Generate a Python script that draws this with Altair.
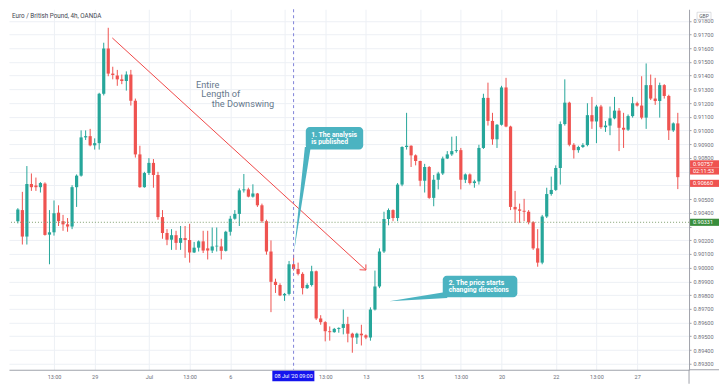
import altair as alt
import pandas as pd

W, H = 681, 361
GREEN = "#26a69a"
RED = "#ef5350"
TEAL = "#4bb3c1"
AXC = "#a0a3ab"
LBL = "#6a6d78"

# 4h candles, EUR/GBP
opens = [0.90339, 0.90420, 0.90227, 0.90610, 0.90599, 0.90587, 0.90613, 0.90241, 0.90258, 0.90401,
         0.90339, 0.90316, 0.90300, 0.90587, 0.90671, 0.90950, 0.90959, 0.90892, 0.90908, 0.91268,
         0.91598, 0.91415, 0.91401, 0.91373, 0.91361, 0.91408, 0.91217, 0.90826, 0.90587, 0.90690,
         0.90764, 0.90676, 0.90369, 0.90253, 0.90204, 0.90237, 0.90181, 0.90216, 0.90202, 0.90111,
         0.90146, 0.90192, 0.90141, 0.90125, 0.90155, 0.90155, 0.90123, 0.90262, 0.90357, 0.90392,
         0.90564, 0.90571, 0.90518, 0.90541, 0.90455, 0.90339, 0.90118, 0.89897, 0.89874, 0.89798,
         0.89809, 0.90025, 0.89990, 0.89955, 0.89851, 0.89874, 0.89974, 0.89630, 0.89603, 0.89537,
         0.89530, 0.89554, 0.89561, 0.89589, 0.89519, 0.89491, 0.89519, 0.89507, 0.89491, 0.89695,
         0.89863, 0.90118, 0.90355, 0.90420, 0.90362, 0.90606, 0.90880, 0.90889, 0.90819, 0.90778,
         0.90634, 0.90734, 0.90509, 0.90641, 0.90687, 0.90796, 0.90826, 0.90850, 0.90857, 0.90641,
         0.90680, 0.90617, 0.90629, 0.90873, 0.91238, 0.91070, 0.90936, 0.91042, 0.91314, 0.91029,
         0.90443, 0.90425, 0.90415, 0.90408, 0.90332, 0.90141, 0.90037, 0.90373, 0.90537, 0.90567,
         0.90727, 0.91047, 0.91203, 0.90896, 0.90857, 0.90880, 0.90894, 0.91112, 0.91066, 0.91175,
         0.91024, 0.91036, 0.91089, 0.91145, 0.91020, 0.91006, 0.91105, 0.91199, 0.91182, 0.91094,
         0.91331, 0.91233, 0.91215, 0.91331, 0.91252, 0.91001, 0.91052]
highs = [0.90434, 0.90553, 0.90741, 0.90687, 0.90657, 0.90624, 0.90622, 0.90420, 0.90490, 0.90455,
         0.90385, 0.90362, 0.90601, 0.90680, 0.91001, 0.91001, 0.91012, 0.90943, 0.91275, 0.91640,
         0.91749, 0.91465, 0.91442, 0.91408, 0.91431, 0.91442, 0.91233, 0.90889, 0.90699, 0.90799,
         0.90792, 0.90699, 0.90420, 0.90281, 0.90281, 0.90269, 0.90304, 0.90304, 0.90320, 0.90188,
         0.90199, 0.90269, 0.90269, 0.90293, 0.90293, 0.90211, 0.90269, 0.90378, 0.90420, 0.90578,
         0.90683, 0.90583, 0.90608, 0.90545, 0.90467, 0.90350, 0.90199, 0.89920, 0.89886, 0.89816,
         0.90049, 0.90095, 0.90037, 0.89967, 0.89886, 0.90014, 0.89979, 0.89654, 0.89610, 0.89572,
         0.89561, 0.89565, 0.89695, 0.89642, 0.89526, 0.89526, 0.89584, 0.89514, 0.89711, 0.89979,
         0.90141, 0.90408, 0.90432, 0.90425, 0.90617, 0.90885, 0.91129, 0.90892, 0.90826, 0.90780,
         0.90757, 0.90741, 0.90676, 0.90699, 0.90810, 0.90850, 0.90955, 0.90959, 0.90873, 0.90687,
         0.90687, 0.90641, 0.90896, 0.91268, 0.91349, 0.91129, 0.91047, 0.91326, 0.91384, 0.91035,
         0.90560, 0.90467, 0.90502, 0.90420, 0.90339, 0.90281, 0.90385, 0.90583, 0.90664, 0.90746,
         0.91066, 0.91373, 0.91210, 0.90908, 0.90889, 0.90908, 0.91199, 0.91245, 0.91187, 0.91187,
         0.91070, 0.91175, 0.91245, 0.91164, 0.91129, 0.91117, 0.91245, 0.91210, 0.91396, 0.91489,
         0.91408, 0.91384, 0.91349, 0.91338, 0.91261, 0.91059, 0.91129]
lows = [0.90323, 0.90169, 0.90169, 0.90560, 0.90560, 0.90548, 0.90234, 0.90025, 0.90234, 0.90304,
        0.90269, 0.90262, 0.90281, 0.90443, 0.90664, 0.90931, 0.90885, 0.90861, 0.90861, 0.91256,
        0.91396, 0.91373, 0.91326, 0.91338, 0.91291, 0.91182, 0.90803, 0.90583, 0.90583, 0.90676,
        0.90583, 0.90350, 0.90211, 0.90164, 0.90130, 0.90130, 0.90130, 0.90072, 0.90037, 0.90107,
        0.90118, 0.90107, 0.90060, 0.90107, 0.90118, 0.90060, 0.90118, 0.90234, 0.90350, 0.90304,
        0.90548, 0.90513, 0.90511, 0.90443, 0.90327, 0.90095, 0.89676, 0.89816, 0.89793, 0.89758,
        0.89798, 0.89979, 0.89944, 0.89805, 0.89845, 0.89863, 0.89619, 0.89584, 0.89463, 0.89468,
        0.89526, 0.89526, 0.89514, 0.89456, 0.89380, 0.89444, 0.89433, 0.89479, 0.89468, 0.89688,
        0.89851, 0.90107, 0.90309, 0.90339, 0.90339, 0.90594, 0.90861, 0.90734, 0.90746, 0.90594,
        0.90548, 0.90502, 0.90448, 0.90571, 0.90676, 0.90792, 0.90815, 0.90838, 0.90571, 0.90617,
        0.90606, 0.90583, 0.90606, 0.90866, 0.91036, 0.90896, 0.90873, 0.91036, 0.91024, 0.90420,
        0.90327, 0.90327, 0.90339, 0.90316, 0.90130, 0.90007, 0.90025, 0.90362, 0.90525, 0.90560,
        0.90606, 0.91036, 0.90885, 0.90796, 0.90838, 0.90873, 0.90885, 0.91012, 0.90908, 0.91012,
        0.90990, 0.90966, 0.91082, 0.90850, 0.90873, 0.90997, 0.91094, 0.91175, 0.91082, 0.91012,
        0.91222, 0.91187, 0.91094, 0.91233, 0.90931, 0.90990, 0.90573]
closes = [0.90425, 0.90227, 0.90610, 0.90587, 0.90587, 0.90617, 0.90239, 0.90258, 0.90397, 0.90339,
          0.90316, 0.90300, 0.90587, 0.90671, 0.90950, 0.90959, 0.90892, 0.90908, 0.91268, 0.91598,
          0.91415, 0.91405, 0.91373, 0.91361, 0.91408, 0.91217, 0.90826, 0.90587, 0.90690, 0.90764,
          0.90676, 0.90369, 0.90253, 0.90204, 0.90237, 0.90181, 0.90216, 0.90202, 0.90111, 0.90146,
          0.90192, 0.90125, 0.90125, 0.90155, 0.90160, 0.90123, 0.90262, 0.90357, 0.90392, 0.90564,
          0.90571, 0.90518, 0.90541, 0.90455, 0.90339, 0.90118, 0.89897, 0.89874, 0.89798, 0.89809,
          0.90025, 0.89990, 0.89955, 0.89851, 0.89874, 0.89974, 0.89630, 0.89603, 0.89537, 0.89530,
          0.89554, 0.89561, 0.89589, 0.89519, 0.89491, 0.89519, 0.89507, 0.89491, 0.89695, 0.89863,
          0.90118, 0.90355, 0.90420, 0.90362, 0.90606, 0.90880, 0.90889, 0.90819, 0.90778, 0.90634,
          0.90734, 0.90509, 0.90641, 0.90687, 0.90796, 0.90826, 0.90850, 0.90857, 0.90641, 0.90680,
          0.90617, 0.90629, 0.90873, 0.91238, 0.91070, 0.90936, 0.91042, 0.91314, 0.91029, 0.90443,
          0.90425, 0.90415, 0.90408, 0.90332, 0.90141, 0.90037, 0.90373, 0.90537, 0.90567, 0.90727,
          0.91047, 0.91203, 0.90896, 0.90857, 0.90880, 0.90894, 0.91112, 0.91066, 0.91175, 0.91024,
          0.91036, 0.91089, 0.91145, 0.91020, 0.91006, 0.91105, 0.91199, 0.91182, 0.91094, 0.91331,
          0.91233, 0.91215, 0.91331, 0.91252, 0.91001, 0.91052, 0.90660]

# time-axis labels (candle index -> text); the label at 59 sits under the crosshair date box
tick_idx = [8, 17, 29, 38, 47, 59, 68, 77, 89, 98, 107, 119, 128, 137]
tick_txt = ["13:00", "29", "Jul", "13:00", "6", "", "13:00", "13", "15", "13:00", "20", "22", "13:00", "27"]
price_ticks = [0.893, 0.894, 0.895, 0.896, 0.897, 0.898, 0.899, 0.900, 0.901, 0.902, 0.903, 0.904, 0.905,
               0.906, 0.907, 0.908, 0.909, 0.910, 0.911, 0.912, 0.913, 0.914, 0.915, 0.916, 0.917, 0.918]
hidden_price_labels = ["0.90300", "0.90600", "0.90700"]  # covered by price tags

# right-axis price tags
tag_pos = [0.90757, 0.90705, 0.90615, 0.90331]
tag_txt = ["0.90757", "02:11:53", "0.90660", "0.90331"]
tag_col = [RED, RED, RED, "#388e3c"]

df = pd.DataFrame({"i": list(range(len(opens))), "open": opens, "high": highs,
                   "low": lows, "close": closes})

expr = ""
for k, t in zip(tick_idx, tick_txt):
    expr += f"datum.value == {k} ? '{t}' : "
expr += "''"

yexpr = ""
for s in hidden_price_labels:
    yexpr += f"datum.label == '{s}' ? '' : "
yexpr += "datum.label"

xs = alt.Scale(domain=[-0.85, 147.38], nice=False, zero=False)
ys = alt.Scale(domain=[0.89256, 0.91884], nice=False, zero=False)

xaxis = alt.Axis(values=tick_idx, labelExpr=expr, title=None, grid=True, gridColor="#edf0f5",
                 ticks=False, domainColor=AXC, labelColor=LBL, labelFontSize=5.5, labelFont="Roboto",
                 labelPadding=5, labelAngle=0, labelOverlap=False, labelFlush=False)
yaxis = alt.Axis(orient="right", values=price_ticks, format=".5f", labelExpr=yexpr, title=None, grid=True,
                 gridColor="#edf0f5", tickSize=2, tickColor=AXC, domainColor=AXC, labelColor=LBL,
                 labelFontSize=5.5, labelFont="Roboto", labelPadding=2, labelOverlap=False)


def X(f):
    return alt.X(f, scale=xs, axis=xaxis)


def Y(f):
    return alt.Y(f, scale=ys, axis=yaxis)


col = alt.when(alt.datum.open <= alt.datum.close).then(alt.value(GREEN)).otherwise(alt.value(RED))
base = alt.Chart(df).encode(x=X("i:Q"), color=col)
wicks = base.mark_rule(strokeWidth=1).encode(y=Y("low:Q"), y2="high:Q")
bodies = base.mark_bar(size=3.2).encode(y=Y("open:Q"), y2="close:Q")

vline = alt.Chart(pd.DataFrame({"i": [61]})).mark_rule(
    color="#7f83d9", strokeDash=[3, 3], strokeWidth=1).encode(x=X("i:Q"))
hline = alt.Chart(pd.DataFrame({"p": [0.90331]})).mark_rule(
    color="#7f9f6f", strokeDash=[1, 2], strokeWidth=1).encode(y=Y("p:Q"))

arrow = alt.Chart(pd.DataFrame({
    "x": [20.9, 77.0, 77.0], "y": [0.91675, 0.89983, 0.89983],
    "x2": [77.0, 75.6, 77.0], "y2": [0.89983, 0.89985, 0.90024]})).mark_rule(
    color="#f04848", strokeWidth=1).encode(x=X("x:Q"), y=Y("y:Q"), x2="x2:Q", y2="y2:Q")

swing = alt.Chart(pd.DataFrame({
    "i": [39.4, 40.6, 42.9], "p": [0.91333, 0.91263, 0.91190],
    "t": ["Entire", "Length of", "the Downswing"]})).mark_text(
    align="left", baseline="middle", font="Roboto", fontSize=9.2, color="#66788c").encode(
    x=X("i:Q"), y=Y("p:Q"), text="t:N")

boxes = alt.Chart(pd.DataFrame({
    "x": [63.7, 94.0], "x2": [76.4, 110.5], "y": [0.90862, 0.89784], "y2": [0.91026, 0.89941]})).mark_rect(
    cornerRadius=4, color=TEAL).encode(x=X("x:Q"), x2="x2:Q", y=Y("y:Q"), y2="y2:Q")

tail1 = alt.Chart(pd.DataFrame({"p": [0.90880, 0.90115], "xl": [63.5, 61.1], "xr": [64.8, 61.1]})).mark_area(
    orient="horizontal", color=TEAL).encode(y=Y("p:Q"), x=X("xl:Q"), x2="xr:Q")
tail2 = alt.Chart(pd.DataFrame({"i": [82.16, 95.0], "lo": [0.89755, 0.89780], "hi": [0.89755, 0.89825]})).mark_area(
    color=TEAL).encode(x=X("i:Q"), y=Y("lo:Q"), y2="hi:Q")

callout_txt = alt.Chart(pd.DataFrame({
    "i": [64.9, 64.9, 95.3, 95.3], "p": [0.90968, 0.90914, 0.89888, 0.89836],
    "t": ["1. The analysis", "is published", "2. The price starts", "changing directions"]})).mark_text(
    align="left", baseline="middle", font="Roboto", fontSize=6.8, fontWeight="bold", color="white").encode(
    x=X("i:Q"), y=Y("p:Q"), text="t:N")

tagdf = pd.DataFrame({"p": tag_pos, "t": tag_txt, "c": tag_col})
tagdf["top"] = tagdf["p"] + 0.00026
tagdf["bot"] = tagdf["p"] - 0.00026
tags = alt.Chart(tagdf).mark_rect().encode(
    x=alt.value(W + 1), x2=alt.value(W + 30), y=Y("top:Q"), y2="bot:Q",
    color=alt.Color("c:N", scale=None))
tag_text = alt.Chart(tagdf).mark_text(
    align="left", baseline="middle", font="Roboto", fontSize=5.5, color="white").encode(
    x=alt.value(W + 4), y=Y("p:Q"), text="t:N")

dbox = alt.Chart(pd.DataFrame({"x": [56.3], "x2": [65.6]})).mark_rect(color="#1414ee").encode(
    x=X("x:Q"), x2="x2:Q", y=alt.value(H + 1), y2=alt.value(H + 11.5))
dtext = alt.Chart(pd.DataFrame({"i": [61], "t": ["08 Jul '20  09:00"]})).mark_text(
    align="center", baseline="middle", font="Roboto", fontSize=5.5, color="white").encode(
    x=X("i:Q"), y=alt.value(H + 6.3), text="t:N")

ext = alt.Chart(pd.DataFrame({"k": [0]})).mark_rule(color=AXC, strokeWidth=1).encode(
    x=alt.value(W), y=alt.value(H), y2=alt.value(H + 14))
ext2 = alt.Chart(pd.DataFrame({"k": [0]})).mark_rule(color=AXC, strokeWidth=1).encode(
    x=alt.value(W), x2=alt.value(W + 30), y=alt.value(H))

title = alt.Chart(pd.DataFrame({"t": ["Euro / British Pound, 4h, OANDA"]})).mark_text(
    align="left", baseline="middle", font="Roboto", fontSize=6.3, color="#434651").encode(
    x=alt.value(3), y=alt.value(7), text="t:N")
gbp_box = alt.Chart(pd.DataFrame({"k": [0]})).mark_rect(fill="white", stroke="#c8cad0", strokeWidth=0.6).encode(
    x=alt.value(W + 8), x2=alt.value(W + 22), y=alt.value(3), y2=alt.value(10))
gbp = alt.Chart(pd.DataFrame({"t": ["GBP"]})).mark_text(
    align="center", baseline="middle", font="Roboto", fontSize=5, color="#555a66").encode(
    x=alt.value(W + 15), y=alt.value(6.6), text="t:N")

chart = alt.layer(
    wicks, bodies, vline, hline, arrow, swing, tail1, tail2, boxes, callout_txt,
    tags, tag_text, dbox, dtext, ext, ext2, title, gbp_box, gbp
).properties(width=W, height=H, padding=0, background="white").configure_view(stroke=None)

chart.save("out.html", embed_options={"renderer": "svg", "actions": False})
